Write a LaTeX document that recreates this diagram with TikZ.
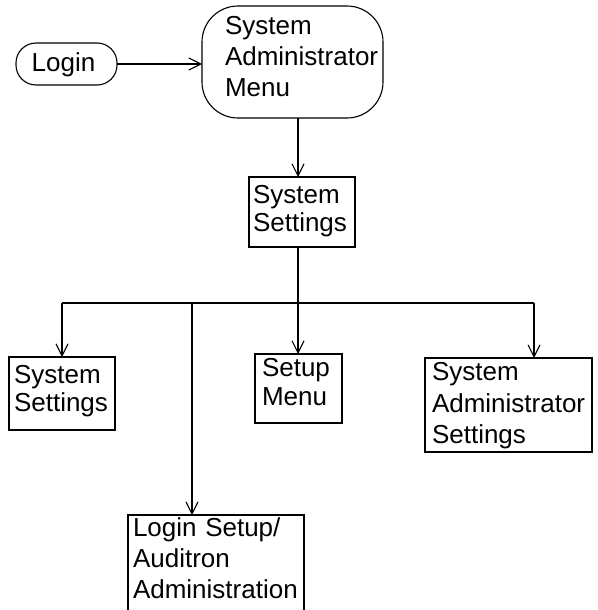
\documentclass[tikz,border=0pt]{standalone}
\usepackage{fontspec}
\setmainfont{Liberation Sans}
\usetikzlibrary{arrows.meta}
\hyphenpenalty=10000
\exhyphenpenalty=10000
\tikzset{
  boxnode/.style={draw, line width=2pt, anchor=north west, inner ysep=0pt, outer sep=0pt, align=left},
  roundnode/.style={draw, line width=1.1pt, anchor=north west, inner ysep=0pt, outer sep=0pt},
  conn/.style={line width=1.8pt},
  arr/.style={conn, -{Straight Barb[length=12pt,width=12pt,line width=1.1pt]}},
}
\newcommand{\fs}[1]{\fontsize{26}{#1}\selectfont\parindent=0pt}
\newcommand{\topr}[1]{\rule{0pt}{#1pt}}
\newcommand{\botr}[1]{\rule[-#1pt]{0pt}{#1pt}}
\begin{document}
\begin{tikzpicture}[x=1pt,y=-1pt]
\path[use as bounding box, clip] (0,0) rectangle (597,610);

\node[roundnode, rounded corners=20pt, inner xsep=18.7pt, font=\fs{31}] (login) at (16,43)
  {\hspace*{-3pt}\topr{28.9}Login\botr{13.1}\hspace*{3pt}};
\node[roundnode, rounded corners=36pt, inner xsep=23pt, text width=135pt, align=left, font=\fs{31}] (sam) at (202,6)
  {\topr{28.6}System\\Administrator\\Menu\botr{21.4}};
\node[boxnode, inner xsep=4pt, text width=98pt, font=\fs{28}] (ss0) at (249,177)
  {\topr{26.6}System\\Settings\botr{15.4}};
\node[boxnode, inner xsep=5pt, text width=96pt, font=\fs{28.3}] (ssl) at (9,357)
  {\topr{26.6}System\\Settings\botr{18.1}};
\node[boxnode, inner xsep=7pt, text width=73pt, font=\fs{29}] (sm) at (255,354)
  {\topr{22.6}Setup\\Menu\botr{17.4}};
\node[boxnode, inner xsep=7pt, text width=153pt, font=\fs{31.7}] (sas) at (425,358)
  {\topr{22.3}System\\Administrator\\Settings\botr{8.3}};
\node[boxnode, inner xsep=5pt, text width=166pt, font=\fs{31}] (ls) at (128,515)
  {\topr{21.6}Login Setup/\\Auditron\\Administration\botr{25}};

\coordinate (bus) at (298,303);
\coordinate (bl) at (62,303);
\coordinate (bm) at (192,303);
\coordinate (br) at (534,303);

\draw[arr] (login.east) -- (login.east -| sam.west);
\draw[arr] (sam.south -| bus) -- (bus |- ss0.north);
\draw[conn] (ss0.south -| bus) -- (bus);
\draw[conn] (bl) -- (br);
\draw[arr] (bl) -- (bl |- ssl.north);
\draw[arr] (bm) -- (bm |- ls.north);
\draw[arr] (bus) -- (bus |- sm.north);
\draw[arr] (br) -- (br |- sas.north);
\end{tikzpicture}
\end{document}
